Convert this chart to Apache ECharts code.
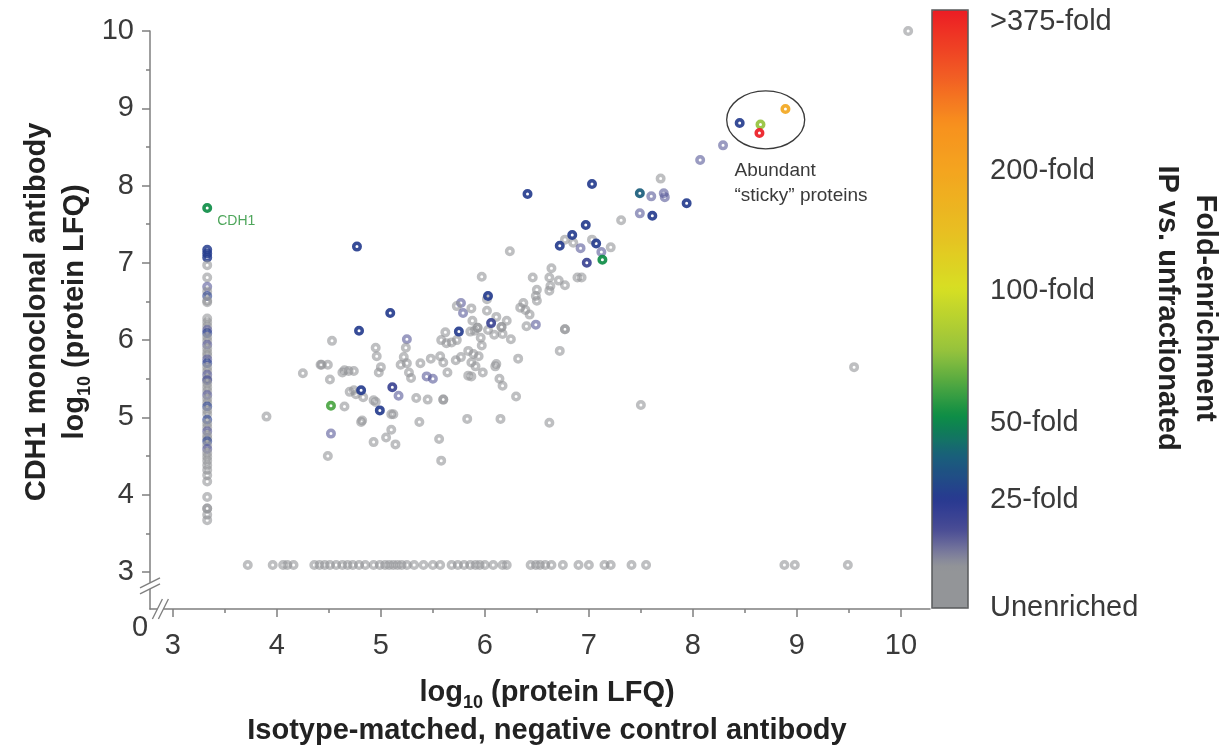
<!DOCTYPE html>
<html>
<head>
<meta charset="utf-8">
<title>CDH1 IP enrichment</title>
<script src="https://cdn.jsdelivr.net/npm/echarts@6/dist/echarts.min.js"></script>
<style>
  html, body { margin: 0; padding: 0; background: #fff; }
  #chart { width: 1222px; height: 751px; }
</style>
</head>
<body>
<div id="chart"></div>
<script>
// colour level = position on the fold-enrichment bar (0 = unenriched, 1 = >375-fold)
const G = 0, L = 0.12, M = 0.15, B = 0.19, T = 0.25, GR = 0.32, LG = 0.37, YG = 0.43, OR = 0.72, RD = 1;

// proteins quantified in both pulldowns: [control log10 LFQ, CDH1 log10 LFQ, level]
const detectedBoth = [
  [4.79,6.12,B],[4.53,5.99,G],[5.25,6.01,L],[4.95,5.90,G],[5.24,5.90,G],[4.96,5.79,G],
  [5.22,5.78,G],[4.42,5.68,G],[4.43,5.68,G],[4.49,5.68,G],[4.25,5.57,G],[4.65,5.61,G],
  [4.69,5.60,G],[4.74,5.60,G],[4.63,5.58,G],[4.51,5.49,G],[5.00,5.65,G],[4.98,5.58,G],
  [5.19,5.68,G],[5.25,5.70,G],[5.27,5.58,G],[5.29,5.51,G],[5.38,5.70,G],[5.48,5.76,G],
  [5.57,5.79,G],[5.60,5.71,G],[5.64,5.58,G],[5.72,5.74,G],[5.62,6.10,G],[5.58,6.00,G],
  [5.63,5.96,G],[5.68,5.97,G],[5.73,6.00,G],[5.75,6.11,B],[5.44,5.53,L],[5.50,5.50,L],
  [5.11,5.39,M],[4.81,5.35,B],[4.70,5.33,G],[4.74,5.35,G],[4.76,5.30,G],[4.83,5.26,G],
  [4.93,5.22,G],[4.95,5.20,G],[5.17,5.28,L],[5.34,5.25,G],[5.45,5.23,G],[5.60,5.23,G],
  [5.60,5.23,G],[4.52,5.15,LG],[4.65,5.14,G],[4.99,5.09,B],[5.10,5.04,G],[5.12,5.04,G],
  [3.90,5.01,G],[4.81,4.94,G],[4.82,4.96,G],[5.37,4.94,G],[5.10,4.84,G],[5.05,4.74,G],
  [4.52,4.79,L],[4.93,4.68,G],[5.14,4.65,G],[5.56,4.72,G],[4.49,4.50,G],[5.58,4.44,G],
  [6.97,7.49,B],[7.31,7.55,G],[6.84,7.36,B],[6.77,7.30,G],[6.85,7.26,G],[6.72,7.22,B],
  [6.92,7.19,L],[7.03,7.30,G],[7.07,7.25,B],[7.12,7.14,L],[7.21,7.20,G],[6.98,7.00,M],
  [7.13,7.04,GR],[6.24,7.15,G],[6.64,6.93,G],[6.46,6.81,G],[6.62,6.81,G],[6.71,6.77,G],
  [6.77,6.71,G],[6.89,6.81,G],[6.93,6.81,G],[5.97,6.82,G],[6.50,6.65,G],[6.63,6.70,G],
  [6.62,6.64,G],[6.49,6.57,G],[6.50,6.51,G],[6.03,6.57,B],[6.02,6.53,G],[5.77,6.48,L],
  [5.73,6.44,G],[5.79,6.35,L],[5.87,6.41,G],[6.02,6.38,G],[6.37,6.48,G],[6.34,6.42,G],
  [6.39,6.39,G],[6.43,6.33,G],[5.88,6.25,G],[6.11,6.30,G],[6.06,6.22,M],[6.21,6.25,G],
  [5.93,6.16,G],[5.93,6.16,G],[6.16,6.17,G],[6.16,6.17,G],[6.40,6.18,G],[6.49,6.20,L],
  [6.77,6.14,G],[6.77,6.14,G],[6.72,5.86,G],[6.03,6.13,G],[6.09,6.07,G],[6.17,6.08,G],
  [5.96,6.03,G],[5.97,5.93,G],[6.25,6.01,G],[5.84,5.86,G],[5.89,5.82,G],[5.94,5.79,G],
  [5.87,5.71,G],[5.91,5.66,G],[5.98,5.58,G],[5.77,5.78,G],[5.84,5.54,G],[5.87,5.53,G],
  [6.10,5.66,G],[6.11,5.69,G],[6.14,5.50,G],[6.17,5.41,G],[6.32,5.76,G],[6.30,5.27,G],
  [6.62,4.93,G],[6.15,4.98,G],[5.83,4.98,G],[5.86,6.11,G],[5.90,6.12,G],
  [8.45,8.81,B],[8.65,8.79,YG],[8.64,8.68,RD],[8.89,8.99,OR],[8.29,8.52,L],[8.07,8.33,L],
  [7.94,7.77,B],[7.69,8.09,G],[7.49,7.90,T],[7.60,7.86,L],[7.72,7.90,L],[7.73,7.85,L],
  [7.03,8.02,B],[7.49,7.64,L],[7.61,7.61,B],[6.41,7.89,B],[4.77,7.21,B],[5.09,6.35,B],
  [7.50,5.16,G],[9.55,5.65,G],[10.07,10.0,G]
];

// not seen with the control antibody: [CDH1 log10 LFQ, level]
const onlyInIP = [
  [7.17,B],[7.12,B],[7.07,B],[6.97,G],[6.81,G],[6.69,L],[6.63,G],[6.57,B],[6.51,G],[6.49,G],
  [6.28,G],[6.23,G],[6.18,G],[6.13,L],[6.09,B],[6.04,G],[5.99,G],[5.94,L],[5.89,G],[5.84,G],
  [5.80,G],[5.75,L],[5.70,B],[5.65,G],[5.60,G],[5.55,L],[5.50,G],[5.48,M],[5.44,G],[5.39,G],
  [5.34,G],[5.29,L],[5.24,G],[5.19,G],[5.14,B],[5.09,G],[5.04,G],[4.97,B],[4.92,G],[4.87,G],
  [4.82,L],[4.77,G],[4.73,G],[4.69,B],[4.64,G],[4.59,L],[4.54,G],[4.49,G],[4.44,G],[4.38,G],
  [4.32,G],[4.25,G],[4.17,G],[3.97,G],[3.82,G],[3.82,G],[3.74,G],[3.67,G]
];
const cdh1 = [7.71, GR];

// not seen with the CDH1 antibody: control log10 LFQ (all unenriched)
const onlyInControl = [
  3.72,3.96,4.06,4.10,4.16,4.36,4.41,4.46,4.51,4.57,4.63,4.68,4.73,4.79,4.85,4.93,4.99,5.04,
  5.08,5.12,5.16,5.20,5.25,5.32,5.41,5.50,5.57,5.68,5.74,5.80,5.86,5.91,5.95,6.00,6.08,6.17,
  6.21,6.44,6.49,6.53,6.58,6.64,6.75,6.90,7.00,7.15,7.21,7.41,7.55,8.88,8.98,9.49
];

// where the missing values are drawn
const missingX = 3.33, missingY = 3.09;

const majorTicks = [3, 4, 5, 6, 7, 8, 9, 10];
const minorTicks = [3.5, 4.5, 5.5, 6.5, 7.5, 8.5, 9.5];

const foldLabels = ['Unenriched', '25-fold', '50-fold', '100-fold', '200-fold', '>375-fold'];
const foldLevels = [0, 0.18, 0.31, 0.53, 0.73, 0.98];

// colour bar
const barStops = [
  [0.00, '#939598'], [0.07, '#939598'], [0.095, '#77789c'], [0.13, '#4a4c95'],
  [0.18, '#283891'], [0.255, '#19607a'], [0.32, '#0b8d45'], [0.43, '#96c23d'],
  [0.535, '#d7df23'], [0.63, '#e8bf22'], [0.73, '#f4a51f'], [0.81, '#f7901e'],
  [0.895, '#f15a24'], [1.00, '#ec1c24']
];

function hexRgb(h) {
  return [1, 3, 5].map(i => parseInt(h.slice(i, i + 2), 16));
}
function sampleStops(stops, n) {
  let out = [];
  for (let i = 0; i < n; i++) {
    let t = i / (n - 1);
    let k = 0;
    while (k < stops.length - 2 && stops[k + 1][0] < t) k++;
    let [t0, c0] = stops[k], [t1, c1] = stops[k + 1];
    let f = Math.min(1, Math.max(0, (t - t0) / (t1 - t0)));
    let a = hexRgb(c0), b = hexRgb(c1);
    out.push('rgb(' + a.map((v, j) => Math.round(v + (b[j] - v) * f)).join(',') + ')');
  }
  return out;
}

const FONT = '"Liberation Sans", Arial, Helvetica, sans-serif';
const RING = 'path://M10 0A10 10 0 1 1 -10 0A10 10 0 1 1 10 0ZM3 0A3 3 0 1 0 -3 0A3 3 0 1 0 3 0Z';
const AXIS = '#7f7f7f';
const TXT = '#3a3a3a';
const FAINT = 0.6, SOLID = 0.92;

// cloud + bottom row, split so the enriched ones sit on top
let cloud = detectedBoth.concat(onlyInControl.map(x => [x, missingY, G]));
let faint = cloud.filter(d => d[2] < 0.14);
let strong = cloud.filter(d => d[2] >= 0.14);

// left column keeps its own top-to-bottom order, so lower rings overlap upper ones
let column = [{
  value: [missingX, cdh1[0], cdh1[1]],
  itemStyle: { opacity: SOLID },
  label: {
    show: true, formatter: 'CDH1', position: 'right', distance: 5, offset: [0, 13],
    color: '#3f9e4d', fontSize: 14, fontFamily: FONT
  }
}].concat(onlyInIP.map((d, i) => ({
  value: [missingX, d[0], d[1]],
  itemStyle: { opacity: d[1] < 0.14 ? FAINT : (i < 3 ? 0.85 : 0.6) }
})));

const xMin = 2.78, xMax = 10.28, yMin = 2.52, yMax = 10;
const barLeft = 932, barTop = 10, barW = 36, barH = 598;

function valueAxis(min, max, minor) {
  return {
    type: 'value', min: min, max: max,
    axisLine: { show: !minor, lineStyle: { color: AXIS, width: 1.5 } },
    axisTick: { show: true, customValues: minor ? minorTicks : majorTicks, length: minor ? 4 : 8,
                lineStyle: { color: AXIS, width: 1.5 } },
    axisLabel: minor ? { show: false } : {
      customValues: majorTicks, fontSize: 29, color: TXT, fontFamily: FONT
    },
    splitLine: { show: false }
  };
}

let xa = valueAxis(xMin, xMax, false);
xa.axisLabel.margin = 22;
let xb = valueAxis(xMin, xMax, true);
xb.position = 'bottom';
let ya = valueAxis(yMin, yMax, false);
ya.axisLabel.margin = 16;
let yb = valueAxis(yMin, yMax, true);
yb.position = 'left';

let chart = echarts.init(document.getElementById('chart'));
let option = {
  animation: false,
  backgroundColor: '#fff',
  grid: { left: 150, right: 1222 - barLeft + 2, top: 31, bottom: 142, containLabel: false },
  xAxis: [xa, xb],
  yAxis: [ya, yb],
  visualMap: {
    type: 'continuous', min: 0, max: 1, dimension: 2, seriesIndex: [0, 1, 2],
    calculable: false, orient: 'vertical', left: barLeft, top: barTop,
    itemWidth: barW, itemHeight: barH, padding: 0, text: null, hoverLink: false,
    inRange: { color: sampleStops(barStops, 121) }
  },
  series: [
    { type: 'scatter', name: 'unenriched', data: faint, symbol: RING, symbolSize: 10,
      itemStyle: { opacity: FAINT }, z: 2 },
    { type: 'scatter', name: 'enriched', data: strong, symbol: RING, symbolSize: 10,
      itemStyle: { opacity: SOLID }, z: 3 },
    { type: 'scatter', name: 'IP only', data: column, symbol: RING, symbolSize: 10, z: 3 }
  ]
};
chart.setOption(option);

let px = p => chart.convertToPixel({ xAxisIndex: 0, yAxisIndex: 0 }, p);
let origin = px([xMin, yMin]);
let yBreak = px([xMin, 2.82]);
let xBreak = px([2.88, yMin]);
let ell = px([8.70, 8.85]);
let note = px([8.40, 8.35]);

let g = [];
// axis breaks
g.push({ type: 'rect', shape: { x: yBreak[0] - 2, y: yBreak[1] - 3, width: 4, height: 6 },
         style: { fill: '#fff' }, z: 100 });
[-3, 3].forEach(d => g.push({ type: 'line', z: 101,
  shape: { x1: yBreak[0] - 10, y1: yBreak[1] + d + 5, x2: yBreak[0] + 10, y2: yBreak[1] + d - 5 },
  style: { stroke: AXIS, lineWidth: 1.3 } }));
g.push({ type: 'rect', shape: { x: xBreak[0] - 3, y: xBreak[1] - 2, width: 6, height: 4 },
         style: { fill: '#fff' }, z: 100 });
[-3, 3].forEach(d => g.push({ type: 'line', z: 101,
  shape: { x1: xBreak[0] + d - 5, y1: xBreak[1] + 10, x2: xBreak[0] + d + 5, y2: xBreak[1] - 10 },
  style: { stroke: AXIS, lineWidth: 1.3 } }));
g.push({ type: 'text', x: origin[0] - 10, y: origin[1] + 19, z: 101,
  style: { text: '0', fontSize: 29, fontFamily: FONT, fill: TXT, align: 'center', verticalAlign: 'middle' } });

// sticky proteins
g.push({ type: 'ellipse', shape: { cx: ell[0], cy: ell[1], rx: 39, ry: 29 },
         style: { fill: 'none', stroke: '#3a3a3a', lineWidth: 1.3 }, z: 50 });
g.push({ type: 'text', x: note[0], y: note[1], z: 50,
  style: { text: 'Abundant\n\u201csticky\u201d proteins', fontSize: 19, lineHeight: 25, fontFamily: FONT,
           fill: TXT, align: 'left', verticalAlign: 'top' } });

// colour bar frame and labels
g.push({ type: 'rect', shape: { x: barLeft, y: barTop, width: barW, height: barH },
         style: { fill: 'none', stroke: '#58595b', lineWidth: 1.5 }, z: 100 });
foldLabels.forEach((t, i) => g.push({ type: 'text', x: barLeft + 58, y: barTop + (1 - foldLevels[i]) * barH,
  style: { text: t, fontSize: 29, fontFamily: FONT, fill: TXT, align: 'left', verticalAlign: 'middle' } }));

// titles
let rich = {
  b: { fontSize: 29, fontWeight: 'bold', fontFamily: FONT, fill: '#222', lineHeight: 38 },
  s: { fontSize: 18, fontWeight: 'bold', fontFamily: FONT, fill: '#222', lineHeight: 18, verticalAlign: 'bottom' }
};
g.push({ type: 'text', x: 547, y: 712, style: {
  text: '{b|log}{s|10}{b| (protein LFQ)}\n{b|Isotype-matched, negative control antibody}',
  rich: rich, align: 'center', verticalAlign: 'middle', fontSize: 29, lineHeight: 41 } });
g.push({ type: 'text', x: 56, y: 312, rotation: Math.PI / 2, style: {
  text: '{b|CDH1 monoclonal antibody}\n{b|log}{s|10}{b| (protein LFQ)}',
  rich: rich, align: 'center', verticalAlign: 'middle', fontSize: 29, lineHeight: 38 } });
g.push({ type: 'text', x: 1186, y: 308, rotation: -Math.PI / 2, style: {
  text: '{b|Fold-enrichment}\n{b|IP vs. unfractionated}',
  rich: rich, align: 'center', verticalAlign: 'middle', fontSize: 29, lineHeight: 36 } });

chart.setOption({ graphic: g });
</script>
</body>
</html>
